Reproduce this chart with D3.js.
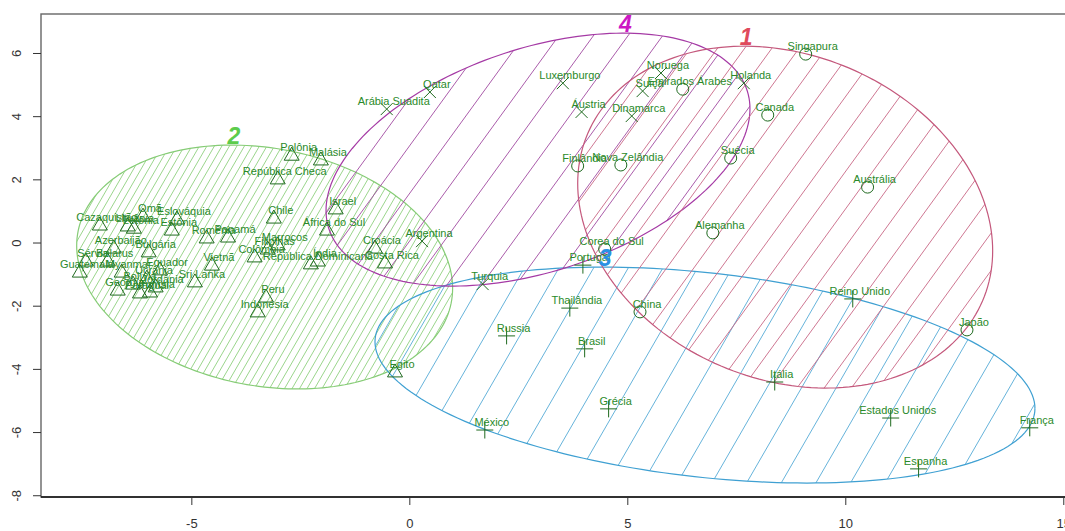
<!DOCTYPE html>
<html>
<head>
<meta charset="UTF-8">
<title>clusplot</title>
<style>
html, body {
    margin: 0;
    padding: 0;
    background-color: #FFFFFF;
}
svg text {
    font-family: "Liberation Sans", Arial, sans-serif;
}
.lbl {
    font-size: 11px;
    fill: #2a8a2a;
}
.tick-lbl {
    font-size: 13px;
    fill: #333;
}
</style>
</head>
<body>
<div class="chart"></div>
<script src="https://cdn.jsdelivr.net/npm/d3@7"></script>
<script>
// countries per cluster: [name, comp1, comp2]
const cluster1 = [
    ['Singapura', 9.08, 5.98], ['Emirados Árabes', 6.26, 4.87], ['Canada', 8.21, 4.05],
    ['Suécia', 7.36, 2.69], ['Austrália', 10.50, 1.77], ['Finlândia', 3.85, 2.44],
    ['Nova Zelândia', 4.84, 2.47], ['Alemanha', 6.95, 0.32], ['Corea do Sul', 4.47, -0.19],
    ['China', 5.28, -2.18], ['Japão', 12.78, -2.75]
];
const cluster2 = [
    ['Polônia', -2.71, 2.78], ['Malásia', -2.04, 2.63], ['República Checa', -3.03, 2.03],
    ['Israel', -1.70, 1.08], ['Chile', -3.12, 0.79], ['África do Sul', -1.90, 0.41],
    ['Cazaquistão', -7.11, 0.57], ['Omã', -6.12, 0.85], ['Lituânia', -6.47, 0.54],
    ['Letônia', -6.33, 0.47], ['Eslováquia', -5.34, 0.76], ['Estônia', -5.46, 0.41],
    ['Romênia', -4.66, 0.16], ['Panamá', -4.17, 0.19], ['Azerbaijão', -6.79, -0.16],
    ['Bulgária', -5.99, -0.28], ['Sérvia', -7.43, -0.57], ['Belarus', -6.93, -0.57],
    ['Guatemala', -7.57, -0.92], ['Myanmar', -6.61, -0.92], ['Equador', -5.73, -0.85],
    ['Geórgia', -6.70, -1.49], ['Bolívia', -6.35, -1.30], ['Ucrânia', -6.03, -1.11],
    ['Jordânia', -5.83, -1.39], ['Paraguai', -6.19, -1.58], ['Tunísia', -5.96, -1.55],
    ['Sri Lanka', -4.93, -1.23], ['Vietnã', -4.54, -0.70], ['Colômbia', -3.56, -0.44],
    ['Filipinas', -3.26, -0.19], ['Marrocos', -3.03, -0.06], ['República Dominicana', -2.27, -0.66],
    ['Índia', -2.11, -0.57], ['Croácia', -0.80, -0.16], ['Costa Rica', -0.57, -0.63],
    ['Peru', -3.30, -1.71], ['Indonésia', -3.49, -2.18], ['Egito', -0.34, -4.08]
];
const cluster3 = [
    ['Portugal', 3.97, -0.70], ['Thailândia', 3.67, -2.06], ['Russia', 2.22, -2.94],
    ['Brasil', 4.01, -3.35], ['Grécia', 4.56, -5.25], ['México', 1.72, -5.92],
    ['Itália', 8.37, -4.40], ['Reino Unido', 10.16, -1.77], ['Estados Unidos', 11.03, -5.54],
    ['Espanha', 11.67, -7.15], ['França', 14.22, -5.85]
];
const cluster4 = [
    ['Qatar', 0.46, 4.78], ['Arábia Suadita', -0.53, 4.24], ['Luxemburgo', 3.51, 5.06],
    ['Áustria', 3.94, 4.15], ['Noruega', 5.76, 5.38], ['Suíça', 5.34, 4.81],
    ['Dinamarca', 5.09, 4.02], ['Holanda', 7.66, 5.06], ['Argentina', 0.28, 0.06],
    ['Turquia', 1.67, -1.30]
];

// ellipses: center x, center y, sxx, syy, sxy (data units)
const ellipse1 = [8.61, 0.82, 22.65, 29.28, -5.08];
const ellipse2 = [-3.33, -0.76, 18.59, 14.90, -2.90];
const ellipse3 = [6.77, -4.18, 57.29, 11.68, -7.98];
const ellipse4 = [2.94, 2.64, 23.64, 16.03, 7.84];

const xTicks = [-5, 0, 5, 10, 15];
const yTicks = [-8, -6, -4, -2, 0, 2, 4, 6];

const width = 1065, height = 531;
const mLeft = 41, mRight = 1086, mTop = 14, mBottom = 497;

let svg = d3.select('.chart').append('svg')
    .attr('width', width)
    .attr('height', height);

let x = d3.scaleLinear().domain([-8.46, 15.51]).range([mLeft, mRight]);
let y = d3.scaleLinear().domain([-8.04, 7.25]).range([mBottom, mTop]);

let defs = svg.append('defs');
defs.append('clipPath').attr('id', 'plotclip')
    .append('rect')
    .attr('x', mLeft).attr('y', mTop)
    .attr('width', mRight - mLeft).attr('height', mBottom - mTop);

function ellipsePoints(e) {
    let [cx, cy, sxx, syy, sxy] = e;
    let l11 = Math.sqrt(sxx), l21 = sxy / l11, l22 = Math.sqrt(syy - l21 * l21);
    let pts = [];
    for (let i = 0; i <= 200; i++) {
        let t = i / 200 * 2 * Math.PI;
        pts.push([x(cx + l11 * Math.cos(t)), y(cy + l21 * Math.cos(t) + l22 * Math.sin(t))]);
    }
    return pts;
}

let ellipses = [
    {e: ellipse2, col: '#86cc76', hatch: '#8fd07f', angle: 60, gap: 6.5, num: '2', numCol: '#5ccc4c'},
    {e: ellipse3, col: '#3fa0d2', hatch: '#55aad6', angle: 60, gap: 30, num: '3', numCol: '#2a90e2'},
    {e: ellipse4, col: '#a53aa5', hatch: '#a04aa0', angle: 54, gap: 28, num: '4', numCol: '#cc18c4'},
    {e: ellipse1, col: '#c4587c', hatch: '#c86886', angle: 54, gap: 22, num: '1', numCol: '#e04a5c'}
];

let line = d3.line();
let plot = svg.append('g').attr('clip-path', 'url(#plotclip)');

ellipses.forEach((d, i) => {
    let pts = ellipsePoints(d.e);
    defs.append('clipPath').attr('id', 'ell' + i)
        .append('path').attr('d', line(pts));

    // hatching lines
    let g = plot.append('g').attr('clip-path', 'url(#ell' + i + ')');
    let a = d.angle * Math.PI / 180;
    let dx = Math.cos(a), dy = -Math.sin(a);
    let nx = Math.sin(a), ny = Math.cos(a);
    let cx = x(d.e[0]), cy = y(d.e[1]);
    for (let k = -60; k <= 60; k++) {
        let ox = cx + nx * k * d.gap, oy = cy + ny * k * d.gap;
        g.append('line')
            .attr('x1', ox - dx * 800).attr('y1', oy - dy * 800)
            .attr('x2', ox + dx * 800).attr('y2', oy + dy * 800)
            .attr('stroke', d.hatch)
            .attr('stroke-width', 0.9);
    }

    plot.append('path')
        .attr('d', line(pts))
        .attr('fill', 'none')
        .attr('stroke', d.col)
        .attr('stroke-width', 1.2);
});

// point symbols
const symCol = '#1f6a1f';
let pts = plot.append('g')
    .attr('fill', 'none')
    .attr('stroke', symCol)
    .attr('stroke-width', 1);

cluster1.forEach((d) => {
    pts.append('circle').attr('cx', x(d[1])).attr('cy', y(d[2])).attr('r', 6);
});
cluster2.forEach((d) => {
    let px = x(d[1]), py = y(d[2]);
    pts.append('path').attr('d', `M${px},${py - 8}L${px + 7.5},${py + 5}L${px - 7.5},${py + 5}Z`);
});
cluster3.forEach((d) => {
    let px = x(d[1]), py = y(d[2]);
    pts.append('path').attr('d', `M${px - 8.5},${py}H${px + 8.5}M${px},${py - 8.5}V${py + 8.5}`);
});
cluster4.forEach((d) => {
    let px = x(d[1]), py = y(d[2]);
    pts.append('path').attr('d', `M${px - 6},${py - 6}L${px + 6},${py + 6}M${px - 6},${py + 6}L${px + 6},${py - 6}`);
});

// country labels
let labels = plot.append('g');
[cluster1, cluster2, cluster3, cluster4].forEach((c) => {
    c.forEach((d) => {
        labels.append('text')
            .attr('class', 'lbl')
            .attr('x', x(d[1]) + 7)
            .attr('y', y(d[2]) - 4)
            .attr('text-anchor', 'middle')
            .text(d[0]);
    });
});

// cluster numbers at top of each ellipse
ellipses.forEach((d) => {
    let [cx, cy, sxx, syy, sxy] = d.e;
    let ty = cy + Math.sqrt(syy), tx = cx + sxy / Math.sqrt(syy);
    plot.append('text')
        .attr('x', x(tx) + 2)
        .attr('y', y(ty) - 1)
        .attr('text-anchor', 'middle')
        .attr('font-size', 23)
        .attr('font-weight', 'bold')
        .attr('font-style', 'italic')
        .attr('fill', d.numCol)
        .text(d.num);
});

// frame and axes
svg.append('rect')
    .attr('x', mLeft).attr('y', mTop)
    .attr('width', mRight - mLeft).attr('height', mBottom - mTop)
    .attr('fill', 'none')
    .attr('stroke', '#666')
    .attr('stroke-width', 1.4);
svg.append('line')
    .attr('x1', mLeft).attr('x2', mRight)
    .attr('y1', mBottom).attr('y2', mBottom)
    .attr('stroke', '#111').attr('stroke-width', 1.4);

let xAxis = svg.append('g');
xTicks.forEach((t) => {
    xAxis.append('line')
        .attr('x1', x(t)).attr('x2', x(t))
        .attr('y1', mBottom).attr('y2', mBottom + 8)
        .attr('stroke', '#333');
    xAxis.append('text')
        .attr('class', 'tick-lbl')
        .attr('x', x(t)).attr('y', mBottom + 31)
        .attr('text-anchor', 'middle')
        .text(t);
});

let yAxis = svg.append('g');
yTicks.forEach((t) => {
    yAxis.append('line')
        .attr('x1', mLeft - 8).attr('x2', mLeft)
        .attr('y1', y(t)).attr('y2', y(t))
        .attr('stroke', '#333');
    yAxis.append('text')
        .attr('class', 'tick-lbl')
        .attr('transform', `translate(${mLeft - 20},${y(t)}) rotate(-90)`)
        .attr('text-anchor', 'middle')
        .text(t);
});
</script>
</body>
</html>
